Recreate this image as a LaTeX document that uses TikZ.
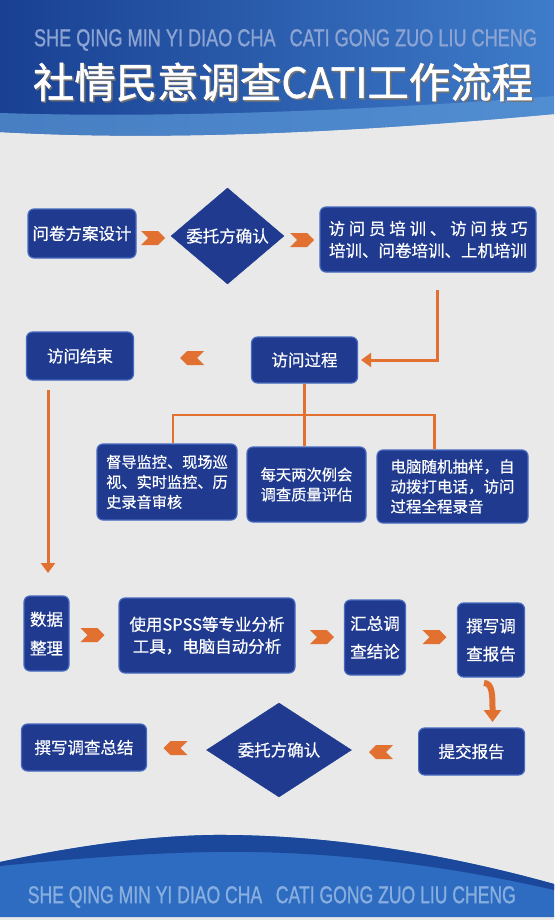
\documentclass[tikz,border=0pt]{standalone}
\usepackage{fontspec}
\setmainfont{Noto Sans CJK SC}[FakeBold=0.5]
\newfontfamily\titlefont{Noto Sans CJK SC}[FakeBold=1.2]
\newfontfamily\latinsans{Liberation Sans}[FakeBold=1.2]
\usetikzlibrary{shapes.geometric,shapes.symbols,arrows.meta,calc}
\definecolor{bgc}{RGB}{232,233,232}
\definecolor{boxblue}{RGB}{31,58,142}
\definecolor{boxedge}{RGB}{72,106,192}
\definecolor{orng}{RGB}{226,112,48}
\definecolor{hdark}{RGB}{25,64,146}
\definecolor{hlight}{RGB}{62,124,202}
\definecolor{hstripe}{RGB}{88,148,212}
\definecolor{subtxt}{RGB}{140,164,212}
\definecolor{fbody}{RGB}{45,108,192}
\definecolor{fdark}{RGB}{28,72,156}
\definecolor{ftxt}{RGB}{136,174,224}
\newcommand\fsz[2]{\fontsize{#1pt}{#2pt}\selectfont}
\begin{document}
\begin{tikzpicture}[x=1pt,y=-1pt,
  box/.style={draw=boxedge, line width=1.2pt, fill=boxblue, rounded corners=6pt,
    text=white, align=center, inner sep=0pt, font=\fsz{16.5}{22}},
  dia/.style={shape=diamond, fill=boxblue, draw=boxblue, text=white, inner sep=0pt,
    font=\fsz{16.5}{22}},
  chevR/.style={shape=signal, signal to=east, signal from=west, fill=orng,
    minimum width=24pt, minimum height=14pt, inner sep=0pt},
  chevL/.style={shape=signal, signal to=west, signal from=east, fill=orng,
    minimum width=24pt, minimum height=14pt, inner sep=0pt},
  conn/.style={draw=orng, line width=3pt, -{Triangle[width=14pt,length=10pt]}},
  tree/.style={draw=orng, line width=2.2pt},
  curv/.style={draw=orng, line width=6pt, -{Triangle[width=17pt,length=12pt]}}
]
\useasboundingbox (0,0) rectangle (554,920);
\fill[bgc] (0,0) rectangle (554,920);

% header
\shade[left color=hdark, right color=hlight]
  (0,0) -- (554,0) -- (554,114) .. controls (380,130) and (180,142) .. (0,132) -- cycle;
\fill[hstripe, opacity=0.75]
  (0,113) .. controls (150,118) and (350,112) .. (554,96) -- (554,114)
  .. controls (380,130) and (180,142) .. (0,132) -- cycle;
\node[text=subtxt, inner sep=0pt] (sub) at (285.5,40)
  {\resizebox{503pt}{17pt}{\latinsans SHE QING MIN YI DIAO CHA\hspace{0.5em} CATI GONG ZUO LIU CHENG}};
\node[text=black!55, inner sep=0pt] at (284.5,83.5)
  {\resizebox{500pt}{!}{\fsz{41}{41}\titlefont 社情民意调查CATI工作流程}};
\node[text=white, inner sep=0pt] (title) at (283,82)
  {\resizebox{500pt}{!}{\fsz{41}{41}\titlefont 社情民意调查CATI工作流程}};

% footer
\fill[fbody] (0,862) .. controls (80,845) and (150,836) .. (212,835)
  .. controls (330,834) and (450,855) .. (554,884) -- (554,917) -- (0,917) -- cycle;
\fill[fdark] (0,862) .. controls (80,845) and (150,836) .. (212,835)
  .. controls (330,834) and (450,855) .. (554,884) -- (554,890)
  .. controls (450,866) and (330,850) .. (212,852) .. controls (150,853) and (80,858) .. (0,866) -- cycle;
\node[text=ftxt, inner sep=0pt] (foot) at (271.8,897)
  {\resizebox{488pt}{17pt}{\latinsans SHE QING MIN YI DIAO CHA\hspace{0.5em} CATI GONG ZUO LIU CHENG}};

% nodes
\node[box, minimum width=108pt, minimum height=49pt] (b1) at (82,233.5) {问卷方案设计};
\node[dia, minimum width=113pt, minimum height=96pt, aspect=1.2] (d1) at (227.5,236) {委托方确认};
\node[box, minimum width=216pt, minimum height=65pt] (b3) at (428,239.5)
  {\makebox[199pt]{访\hfill 问\hfill 员\hfill 培\hfill 训\hfill 、\hfill 访\hfill 问\hfill 技\hfill 巧}\\培训、问卷培训、上机培训};
\node[box, minimum width=107pt, minimum height=48pt] (b4) at (80,356) {访问结束};
\node[box, minimum width=106pt, minimum height=46pt] (b5) at (304.5,360) {访问过程};
\node[box, minimum width=140pt, minimum height=76pt, align=left, font=\fsz{15.2}{20}] (b6) at (167,482)
  {督导监控、现场巡\\视、实时监控、历\\史录音审核\phantom{监控、}};
\node[box, minimum width=119pt, minimum height=75pt, font=\fsz{15.3}{20}] (b7) at (306.5,484.5)
  {每天两次例会\\调查质量评估};
\node[box, minimum width=151pt, minimum height=73pt, align=left, font=\fsz{15.5}{20}] (b8) at (452.5,486.5)
  {电脑随机抽样，自\\动拨打电话，访问\\过程全程录音\phantom{访问}};
\node[box, minimum width=45pt, minimum height=75pt, font=\fsz{16.5}{29}] (b9) at (46.5,633.5) {数据\\整理};
\node[box, minimum width=176pt, minimum height=75pt, font=\fsz{16.5}{22}] (b10) at (207,635.5)
  {使用SPSS等专业分析\\工具，电脑自动分析};
\node[box, minimum width=61pt, minimum height=75pt, font=\fsz{16.5}{28}] (b11) at (375,637.5) {汇总调\\查结论};
\node[box, minimum width=67pt, minimum height=74pt, font=\fsz{16.5}{28}] (b12) at (491,640) {撰写调\\查报告};
\node[box, minimum width=106pt, minimum height=47pt] (b13) at (471.6,751.5) {提交报告};
\node[dia, minimum width=145pt, minimum height=94pt, aspect=1.5] (d2) at (279,750) {委托方确认};
\node[box, minimum width=125pt, minimum height=47pt] (b15) at (84,747.5) {撰写调查总结};

% chevron arrows
\node[chevR] (c1) at (153,238) {};
\node[chevR] (c2) at (302,240) {};
\node[chevL] (c3) at (192,358) {};
\node[chevR] (c4) at (92.5,635) {};
\node[chevR] (c5) at (322,637) {};
\node[chevR] (c6) at (434.5,637) {};
\node[chevL] (c7) at (381,752) {};
\node[chevL] (c8) at (175.5,748) {};

% connectors
\coordinate (l1s) at (437,290);
\draw[conn, shorten >=3pt] (l1s) |- (b5.east);
\coordinate (l2s) at (48,390);
\coordinate (l2e) at (48,573);
\draw[conn] (l2s) -- (l2e);
\coordinate (tj) at (304.5,415);
\draw[tree] (b5.south) -- (tj);
\draw[tree] (tj) -| ($(b6.north)+(6,0)$);
\draw[tree] (tj) -| ($(b8.north)+(-18,0)$);
\draw[tree] (tj) -- (tj |- b7.north);
\coordinate (cs) at (484,683);
\coordinate (ce) at (492.5,722);
\draw[curv] (cs) .. controls (492.5,683) and (492.5,695) .. (ce);
\end{tikzpicture}
\end{document}
